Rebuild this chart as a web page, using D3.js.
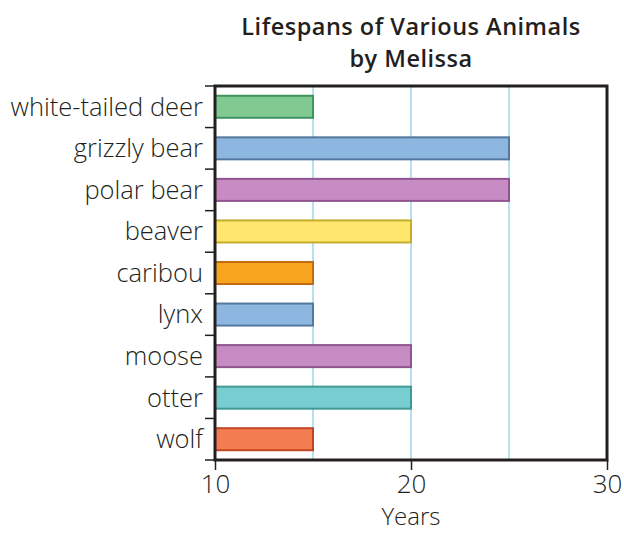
<!DOCTYPE html>
<html><head><meta charset="utf-8">
<script src="https://cdn.jsdelivr.net/npm/d3@7"></script>
<style>body{margin:0;background:#fff;} svg{display:block;}</style>
</head><body>
<script>
const animals = ["white-tailed deer","grizzly bear","polar bear","beaver","caribou","lynx","moose","otter","wolf"];
const lifespans = [15,25,25,20,15,15,20,20,15];
const fills = ["#80c990","#8db7e1","#c78cc3","#fee76c","#f7a41f","#8db7e1","#c78cc3","#77cdd0","#f47c51"];
const strokes = ["#3f9460","#55789f","#8e558f","#c4ad2a","#c46c14","#55789f","#8e558f","#3f9a94","#c24422"];
const xTicks = [10,20,30];
const gridVals = [15,20,25];
const titleLines = ["Lifespans of Various Animals","by Melissa"];
const xTitle = "Years";

const W=624,H=533;
const m={left:215,right:17,top:86,bottom:73};
const svg=d3.select("body").append("svg").attr("width",W).attr("height",H);
const x=d3.scaleLinear().domain([10,30]).range([m.left,W-m.right]);
const y=d3.scaleBand().domain(animals).range([m.top,H-m.bottom]).paddingInner(0.47).paddingOuter(0.235);
const yb=d3.scaleBand().domain(animals).range([m.top,H-m.bottom]);
const font="'Open Sans', sans-serif";

svg.append("g").selectAll("line").data(gridVals).join("line")
 .attr("x1",d=>x(d)).attr("x2",d=>x(d)).attr("y1",m.top).attr("y2",H-m.bottom)
 .attr("stroke","#86cbe6").attr("stroke-width",1.2);

svg.append("g").selectAll("rect").data(animals).join("rect")
 .attr("x",x(10)).attr("y",d=>y(d)).attr("height",y.bandwidth())
 .attr("width",(d,i)=>x(lifespans[i])-x(10))
 .attr("fill",(d,i)=>fills[i]).attr("stroke",(d,i)=>strokes[i]).attr("stroke-width",2);

svg.append("rect").attr("x",m.left).attr("y",m.top).attr("width",x(30)-m.left).attr("height",H-m.bottom-m.top)
 .attr("fill","none").attr("stroke","#231f20").attr("stroke-width",3);

const bounds = animals.map(a=>yb(a)).concat([H-m.bottom]);
svg.append("g").selectAll("line").data(bounds).join("line")
 .attr("x1",m.left-10).attr("x2",m.left).attr("y1",d=>d).attr("y2",d=>d)
 .attr("stroke","#231f20").attr("stroke-width",1.5);

svg.append("g").selectAll("text").data(animals).join("text")
 .attr("x",m.left-12).attr("y",d=>yb(d)+yb.bandwidth()/2).attr("dy","0.35em")
 .attr("text-anchor","end").attr("font-family",font).attr("font-weight",300)
 .attr("font-size",25.5).attr("fill","#231f20").text(d=>d);

const xa=d3.axisBottom(x).tickValues(xTicks).tickSize(10).tickPadding(5).tickFormat(d3.format("d"));
const gx=svg.append("g").attr("transform",`translate(0,${H-m.bottom})`).call(xa);
gx.select(".domain").remove();
gx.selectAll(".tick line").attr("stroke","#231f20").attr("stroke-width",1.5);
gx.selectAll(".tick text").attr("font-family",font).attr("font-weight",300).attr("font-size",26).attr("fill","#231f20");

svg.append("text").attr("x",x(20)).attr("y",525).attr("text-anchor","middle")
 .attr("font-family",font).attr("font-weight",300).attr("font-size",24).attr("fill","#231f20").text(xTitle);

svg.append("g").selectAll("text").data(titleLines).join("text")
 .attr("x",x(20)).attr("y",(d,i)=>35+i*32).attr("text-anchor","middle")
 .attr("font-family",font).attr("font-weight",600).attr("font-size",23.5).attr("letter-spacing",0.5)
 .attr("fill","#231f20").text(d=>d);
</script>
</body></html>
